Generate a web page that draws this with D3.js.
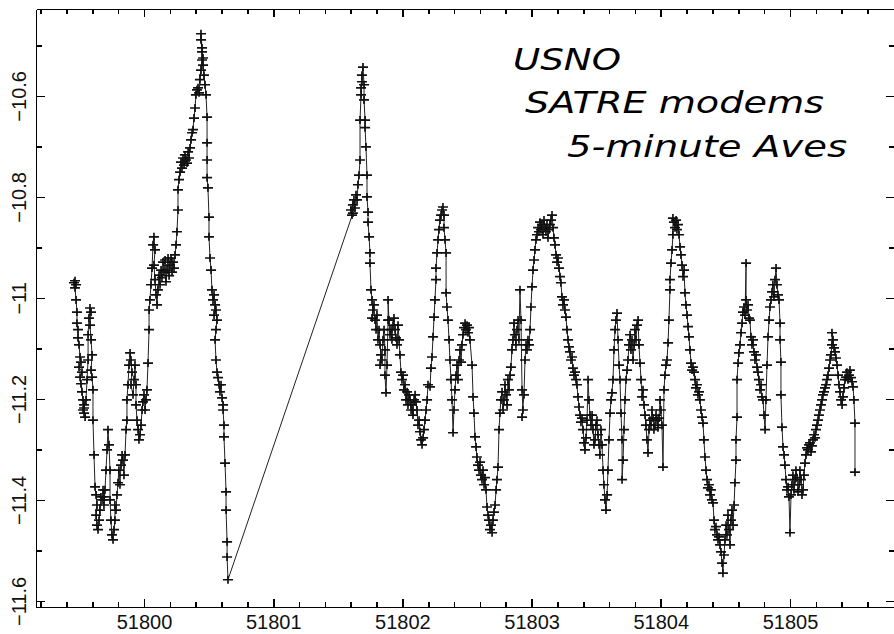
<!DOCTYPE html>
<head>
  <meta charset="utf-8">
  <title>USNO SATRE modems</title>
  <script src="https://d3js.org/d3.v7.min.js"></script>
  <style>
    body { margin: 0; background: #fff; }
    svg { display: block; background: #fff; }
    .axis path, .axis line { stroke: #000; stroke-width: 1.6px; shape-rendering: crispEdges; }
    .axis text { font-family: "Liberation Sans", Arial, sans-serif; font-size: 20px; fill: #111; }
    .trace { fill: none; stroke: #222; stroke-width: 1px; }
    .mark { fill: none; stroke: #111; stroke-width: 1.7px; }
    .note { font-family: "DejaVu Sans ExtraLight", "DejaVu Sans", sans-serif; font-size: 30px; font-weight: 200; font-style: italic; fill: #000; }
  </style>
</head>

<body>
  <script>
    var width = 894, height = 634;
    var margin = {top: 9, right: 0, bottom: 27, left: 36};

    // MJD vs clock offset (5-minute averages)
    var run1 = [
      [51799.458,-10.970],[51799.466,-10.966],[51799.474,-10.974],[51799.466,-10.980],[51799.474,-11.004],
      [51799.481,-11.028],[51799.481,-11.050],[51799.489,-11.063],[51799.489,-11.079],[51799.497,-11.093],
      [51799.505,-11.117],[51799.512,-11.127],[51799.497,-11.137],[51799.520,-11.147],[51799.505,-11.157],
      [51799.512,-11.170],[51799.520,-11.186],[51799.528,-11.202],[51799.536,-11.212],[51799.528,-11.222],
      [51799.536,-11.228],[51799.544,-11.236],[51799.536,-11.218],[51799.551,-11.202],[51799.559,-11.162],
      [51799.567,-11.123],[51799.567,-11.073],[51799.574,-11.040],[51799.582,-11.020],[51799.590,-11.028],
      [51799.582,-11.054],[51799.590,-11.083],[51799.598,-11.113],[51799.590,-11.143],[51799.598,-11.157],
      [51799.605,-11.182],[51799.605,-11.242],[51799.613,-11.311],[51799.621,-11.374],[51799.629,-11.390],
      [51799.636,-11.410],[51799.629,-11.430],[51799.636,-11.450],[51799.644,-11.459],[51799.652,-11.440],
      [51799.659,-11.420],[51799.667,-11.394],[51799.675,-11.400],[51799.683,-11.380],[51799.690,-11.394],
      [51799.690,-11.410],[51799.698,-11.380],[51799.706,-11.341],[51799.714,-11.301],[51799.721,-11.261],
      [51799.729,-11.291],[51799.737,-11.341],[51799.737,-11.400],[51799.744,-11.440],[51799.752,-11.469],
      [51799.760,-11.479],[51799.768,-11.459],[51799.775,-11.440],[51799.775,-11.410],[51799.783,-11.420],
      [51799.791,-11.390],[51799.799,-11.366],[51799.806,-11.341],[51799.814,-11.370],[51799.822,-11.331],
      [51799.830,-11.311],[51799.837,-11.321],[51799.845,-11.351],[51799.853,-11.311],[51799.861,-11.261],
      [51799.868,-11.242],[51799.868,-11.202],[51799.876,-11.172],[51799.884,-11.133],[51799.892,-11.109],
      [51799.899,-11.123],[51799.907,-11.147],[51799.899,-11.172],[51799.915,-11.192],[51799.923,-11.162],
      [51799.930,-11.133],[51799.938,-11.172],[51799.938,-11.212],[51799.946,-11.242],[51799.954,-11.261],
      [51799.961,-11.281],[51799.969,-11.271],[51799.977,-11.252],[51799.985,-11.222],[51799.992,-11.206],
      [51800.000,-11.192],[51800.008,-11.222],[51800.015,-11.202],[51800.023,-11.182],[51800.031,-11.129],
      [51800.039,-11.063],[51800.039,-11.024],[51800.046,-11.004],[51800.054,-10.974],[51800.062,-10.941],
      [51800.070,-10.895],[51800.077,-10.879],[51800.085,-10.905],[51800.077,-10.935],[51800.085,-10.964],
      [51800.093,-10.994],[51800.101,-11.014],[51800.108,-10.984],[51800.116,-10.955],[51800.124,-10.974],
      [51800.132,-10.945],[51800.139,-10.960],[51800.147,-10.929],[51800.155,-10.949],[51800.163,-10.925],
      [51800.170,-10.968],[51800.178,-10.945],[51800.186,-10.921],[51800.194,-10.956],[51800.201,-10.935],
      [51800.209,-10.921],[51800.217,-10.949],[51800.224,-10.929],[51800.232,-10.941],[51800.240,-10.915],
      [51800.248,-10.895],[51800.255,-10.869],[51800.263,-10.826],[51800.263,-10.786],[51800.271,-10.766],
      [51800.279,-10.751],[51800.286,-10.731],[51800.294,-10.743],[51800.302,-10.723],[51800.310,-10.737],
      [51800.317,-10.717],[51800.325,-10.727],[51800.333,-10.733],[51800.341,-10.711],[51800.348,-10.723],
      [51800.356,-10.703],[51800.364,-10.687],[51800.372,-10.673],[51800.379,-10.667],[51800.387,-10.644],
      [51800.395,-10.624],[51800.402,-10.598],[51800.410,-10.588],[51800.418,-10.584],[51800.426,-10.594],
      [51800.433,-10.568],[51800.441,-10.549],[51800.449,-10.529],[51800.449,-10.513],[51800.441,-10.489],
      [51800.441,-10.477],[51800.449,-10.505],[51800.457,-10.525],[51800.457,-10.539],[51800.464,-10.559],
      [51800.472,-10.578],[51800.480,-10.598],[51800.488,-10.642],[51800.488,-10.693],[51800.488,-10.727],
      [51800.488,-10.762],[51800.495,-10.782],[51800.503,-10.840],[51800.503,-10.879],[51800.511,-10.921],
      [51800.519,-10.945],[51800.526,-10.984],[51800.534,-11.004],[51800.542,-10.994],[51800.550,-11.014],
      [51800.542,-11.034],[51800.557,-11.024],[51800.565,-11.044],[51800.557,-11.063],[51800.550,-11.083],
      [51800.557,-11.123],[51800.565,-11.147],[51800.573,-11.158],[51800.581,-11.172],[51800.588,-11.186],
      [51800.596,-11.172],[51800.604,-11.198],[51800.612,-11.212],[51800.612,-11.222],[51800.619,-11.252],
      [51800.619,-11.275],[51800.627,-11.327],[51800.635,-11.384],[51800.635,-11.420],[51800.643,-11.483],
      [51800.643,-11.513],[51800.650,-11.558]
    ];

    var run2 = [
      [51801.617,-10.832],[51801.610,-10.836],[51801.602,-10.826],[51801.617,-10.816],[51801.625,-10.806],
      [51801.633,-10.822],[51801.641,-10.796],[51801.649,-10.806],[51801.656,-10.776],[51801.664,-10.757],
      [51801.672,-10.727],[51801.672,-10.648],[51801.680,-10.598],[51801.680,-10.584],[51801.687,-10.572],
      [51801.687,-10.559],[51801.695,-10.543],[51801.703,-10.578],[51801.703,-10.608],[51801.711,-10.648],
      [51801.711,-10.663],[51801.718,-10.701],[51801.726,-10.757],[51801.726,-10.800],[51801.734,-10.830],
      [51801.734,-10.850],[51801.742,-10.879],[51801.749,-10.911],[51801.749,-10.931],[51801.757,-10.984],
      [51801.765,-11.004],[51801.772,-11.024],[51801.765,-11.040],[51801.780,-11.014],[51801.788,-11.044],
      [51801.796,-11.063],[51801.803,-11.034],[51801.811,-11.083],[51801.819,-11.063],[51801.827,-11.093],
      [51801.834,-11.113],[51801.827,-11.133],[51801.842,-11.123],[51801.850,-11.083],[51801.858,-11.063],
      [51801.865,-11.103],[51801.865,-11.153],[51801.873,-11.188],[51801.881,-11.133],[51801.889,-11.044],
      [51801.889,-11.004],[51801.896,-11.044],[51801.904,-11.073],[51801.912,-11.063],[51801.919,-11.083],
      [51801.927,-11.054],[51801.935,-11.040],[51801.943,-11.063],[51801.950,-11.079],[51801.958,-11.093],
      [51801.966,-11.054],[51801.974,-11.083],[51801.981,-11.113],[51801.989,-11.147],[51801.997,-11.162],
      [51802.005,-11.153],[51802.012,-11.182],[51802.020,-11.172],[51802.028,-11.202],[51802.036,-11.186],
      [51802.043,-11.212],[51802.051,-11.192],[51802.059,-11.202],[51802.067,-11.222],[51802.074,-11.212],
      [51802.082,-11.232],[51802.090,-11.202],[51802.098,-11.192],[51802.105,-11.206],[51802.113,-11.222],
      [51802.121,-11.252],[51802.129,-11.242],[51802.136,-11.265],[51802.144,-11.281],[51802.152,-11.291],
      [51802.160,-11.277],[51802.167,-11.261],[51802.175,-11.242],[51802.183,-11.222],[51802.191,-11.202],
      [51802.198,-11.172],[51802.214,-11.176],[51802.221,-11.139],[51802.229,-11.117],[51802.237,-11.077],
      [51802.245,-11.038],[51802.252,-11.004],[51802.260,-10.964],[51802.260,-10.941],[51802.268,-10.911],
      [51802.276,-10.885],[51802.283,-10.865],[51802.291,-10.846],[51802.299,-10.836],[51802.307,-10.826],
      [51802.314,-10.820],[51802.322,-10.836],[51802.322,-10.861],[51802.330,-10.885],[51802.338,-10.911],
      [51802.338,-10.990],[51802.345,-11.018],[51802.353,-11.044],[51802.361,-11.083],[51802.368,-11.123],
      [51802.376,-11.162],[51802.384,-11.202],[51802.392,-11.267],[51802.399,-11.222],[51802.407,-11.182],
      [51802.415,-11.153],[51802.423,-11.133],[51802.430,-11.162],[51802.438,-11.123],[51802.446,-11.103],
      [51802.454,-11.127],[51802.461,-11.093],[51802.469,-11.073],[51802.477,-11.059],[51802.485,-11.050],
      [51802.492,-11.063],[51802.500,-11.054],[51802.508,-11.069],[51802.515,-11.059],[51802.523,-11.083],
      [51802.539,-11.133],[51802.547,-11.196],[51802.554,-11.228],[51802.562,-11.275],[51802.570,-11.295],
      [51802.577,-11.315],[51802.585,-11.331],[51802.593,-11.341],[51802.601,-11.325],[51802.608,-11.351],
      [51802.616,-11.360],[51802.624,-11.341],[51802.632,-11.370],[51802.639,-11.356],[51802.647,-11.380],
      [51802.655,-11.414],[51802.663,-11.430],[51802.670,-11.440],[51802.678,-11.459],[51802.686,-11.450],
      [51802.694,-11.465],[51802.701,-11.440],[51802.709,-11.424],[51802.717,-11.410],[51802.725,-11.380],
      [51802.732,-11.360],[51802.740,-11.335],[51802.748,-11.261],[51802.755,-11.228],[51802.763,-11.202],
      [51802.771,-11.186],[51802.779,-11.222],[51802.786,-11.202],[51802.794,-11.172],[51802.802,-11.192],
      [51802.810,-11.212],[51802.817,-11.162],[51802.825,-11.182],[51802.833,-11.153],[51802.840,-11.137],
      [51802.848,-11.103],[51802.856,-11.083],[51802.864,-11.050],[51802.871,-11.073],[51802.879,-11.093],
      [51802.887,-11.063],[51802.895,-11.044],[51802.902,-11.083],[51802.910,-10.984],[51802.918,-11.044],
      [51802.926,-11.182],[51802.933,-11.222],[51802.926,-11.236],[51802.941,-11.192],[51802.949,-11.123],
      [51802.957,-11.093],[51802.964,-11.103],[51802.972,-11.083],[51802.980,-11.093],[51802.988,-11.063],
      [51802.995,-11.018],[51803.003,-10.978],[51803.011,-10.945],[51803.019,-10.925],[51803.026,-10.905],
      [51803.034,-10.885],[51803.042,-10.875],[51803.050,-10.861],[51803.057,-10.869],[51803.065,-10.850],
      [51803.073,-10.865],[51803.080,-10.855],[51803.088,-10.875],[51803.096,-10.846],[51803.104,-10.861],
      [51803.111,-10.869],[51803.119,-10.855],[51803.127,-10.881],[51803.135,-10.865],[51803.142,-10.855],
      [51803.150,-10.846],[51803.158,-10.836],[51803.166,-10.861],[51803.173,-10.881],[51803.181,-10.895],
      [51803.189,-10.915],[51803.197,-10.929],[51803.204,-10.921],[51803.212,-10.941],[51803.220,-10.958],
      [51803.227,-10.970],[51803.235,-10.998],[51803.243,-11.014],[51803.251,-11.004],[51803.258,-11.024],
      [51803.266,-11.038],[51803.274,-11.063],[51803.282,-11.083],[51803.289,-11.097],[51803.297,-11.107],
      [51803.305,-11.123],[51803.313,-11.117],[51803.320,-11.139],[51803.328,-11.153],[51803.336,-11.147],
      [51803.344,-11.162],[51803.351,-11.172],[51803.359,-11.196],[51803.367,-11.216],[51803.375,-11.232],
      [51803.382,-11.246],[51803.390,-11.238],[51803.398,-11.261],[51803.406,-11.287],[51803.413,-11.301],
      [51803.421,-11.277],[51803.429,-11.242],[51803.437,-11.162],[51803.444,-11.202],[51803.452,-11.232],
      [51803.460,-11.252],[51803.468,-11.232],[51803.475,-11.261],[51803.483,-11.291],[51803.491,-11.281],
      [51803.498,-11.252],[51803.506,-11.242],[51803.514,-11.271],[51803.522,-11.291],[51803.529,-11.311],
      [51803.537,-11.261],[51803.545,-11.291],[51803.553,-11.341],[51803.560,-11.370],[51803.568,-11.400],
      [51803.576,-11.420],[51803.584,-11.390],[51803.591,-11.341],[51803.599,-11.281],[51803.607,-11.228],
      [51803.615,-11.202],[51803.622,-11.188],[51803.630,-11.162],[51803.638,-11.103],[51803.646,-11.063],
      [51803.653,-11.044],[51803.661,-11.030],[51803.669,-11.083],[51803.677,-11.133],[51803.684,-11.162],
      [51803.692,-11.228],[51803.700,-11.281],[51803.700,-11.360],[51803.708,-11.321],[51803.715,-11.261],
      [51803.723,-11.202],[51803.731,-11.162],[51803.739,-11.143],[51803.746,-11.123],[51803.754,-11.093],
      [51803.762,-11.073],[51803.769,-11.103],[51803.777,-11.083],[51803.785,-11.123],[51803.793,-11.093],
      [51803.800,-11.063],[51803.808,-11.083],[51803.816,-11.054],[51803.824,-11.044],[51803.831,-11.093],
      [51803.839,-11.129],[51803.847,-11.162],[51803.855,-11.196],[51803.862,-11.182],[51803.870,-11.212],
      [51803.878,-11.232],[51803.885,-11.252],[51803.893,-11.281],[51803.901,-11.307],[51803.909,-11.261],
      [51803.916,-11.242],[51803.924,-11.252],[51803.932,-11.222],[51803.940,-11.238],[51803.947,-11.261],
      [51803.955,-11.252],[51803.963,-11.232],[51803.971,-11.242],[51803.978,-11.257],[51803.986,-11.238],
      [51803.994,-11.202],[51804.001,-11.222],[51804.009,-11.252],[51804.017,-11.335],[51804.025,-11.182],
      [51804.032,-11.153],[51804.040,-11.133],[51804.048,-11.123],[51804.056,-11.089],[51804.063,-11.044],
      [51804.071,-10.984],[51804.071,-10.964],[51804.079,-10.931],[51804.087,-10.905],[51804.094,-10.875],
      [51804.094,-10.842],[51804.102,-10.850],[51804.110,-10.861],[51804.118,-10.846],[51804.125,-10.865],
      [51804.133,-10.855],[51804.141,-10.875],[51804.149,-10.899],[51804.156,-10.915],[51804.164,-10.935],
      [51804.172,-10.958],[51804.180,-10.945],[51804.187,-10.990],[51804.195,-11.014],[51804.203,-11.034],
      [51804.211,-11.057],[51804.218,-11.077],[51804.226,-11.103],[51804.234,-11.129],[51804.242,-11.143],
      [51804.249,-11.137],[51804.257,-11.147],[51804.265,-11.162],[51804.272,-11.178],[51804.280,-11.172],
      [51804.288,-11.192],[51804.296,-11.186],[51804.303,-11.202],[51804.311,-11.222],[51804.319,-11.236],
      [51804.327,-11.248],[51804.334,-11.281],[51804.342,-11.315],[51804.350,-11.341],[51804.358,-11.360],
      [51804.365,-11.376],[51804.373,-11.370],[51804.381,-11.390],[51804.388,-11.380],[51804.396,-11.400],
      [51804.404,-11.406],[51804.412,-11.440],[51804.419,-11.459],[51804.427,-11.453],[51804.435,-11.469],
      [51804.443,-11.479],[51804.450,-11.473],[51804.458,-11.489],[51804.466,-11.503],[51804.474,-11.525],
      [51804.481,-11.545],[51804.489,-11.509],[51804.497,-11.479],[51804.505,-11.450],[51804.512,-11.469],
      [51804.520,-11.430],[51804.528,-11.459],[51804.536,-11.489],[51804.543,-11.440],[51804.551,-11.420],
      [51804.559,-11.450],[51804.567,-11.410],[51804.574,-11.366],[51804.582,-11.321],[51804.582,-11.281],
      [51804.590,-11.236],[51804.590,-11.162],[51804.598,-11.129],[51804.605,-11.109],[51804.613,-11.093],
      [51804.621,-11.069],[51804.629,-11.050],[51804.636,-11.028],[51804.644,-11.018],[51804.652,-11.034],
      [51804.660,-10.931],[51804.660,-11.004],[51804.667,-11.024],[51804.675,-11.014],[51804.683,-11.040],
      [51804.690,-11.044],[51804.698,-11.077],[51804.706,-11.093],[51804.714,-11.083],[51804.721,-11.107],
      [51804.729,-11.123],[51804.737,-11.113],[51804.745,-11.137],[51804.752,-11.147],[51804.760,-11.162],
      [51804.768,-11.182],[51804.776,-11.172],[51804.783,-11.196],[51804.791,-11.202],[51804.799,-11.232],
      [51804.807,-11.261],[51804.814,-11.202],[51804.822,-11.133],[51804.830,-11.077],[51804.838,-11.044],
      [51804.845,-11.018],[51804.853,-11.004],[51804.861,-10.988],[51804.868,-10.974],[51804.876,-10.998],
      [51804.884,-10.964],[51804.892,-10.941],[51804.899,-10.974],[51804.907,-10.994],[51804.915,-11.004],
      [51804.923,-11.050],[51804.923,-11.083],[51804.930,-11.127],[51804.930,-11.192],[51804.938,-11.256],
      [51804.946,-11.295],[51804.954,-11.311],[51804.961,-11.331],[51804.969,-11.360],[51804.977,-11.380],
      [51804.985,-11.374],[51804.992,-11.394],[51805.000,-11.465],[51805.008,-11.390],[51805.015,-11.370],
      [51805.023,-11.351],[51805.031,-11.380],[51805.039,-11.360],[51805.046,-11.341],[51805.054,-11.356],
      [51805.062,-11.384],[51805.070,-11.370],[51805.077,-11.341],[51805.085,-11.360],[51805.093,-11.390],
      [51805.101,-11.380],[51805.108,-11.351],[51805.116,-11.327],[51805.124,-11.311],[51805.132,-11.297],
      [51805.139,-11.301],[51805.147,-11.291],[51805.155,-11.287],[51805.163,-11.305],[51805.170,-11.293],
      [51805.178,-11.281],[51805.186,-11.271],[51805.194,-11.277],[51805.201,-11.261],[51805.209,-11.252],
      [51805.217,-11.242],[51805.224,-11.232],[51805.232,-11.222],[51805.240,-11.212],[51805.248,-11.202],
      [51805.255,-11.192],[51805.263,-11.186],[51805.271,-11.178],[51805.279,-11.172],[51805.286,-11.162],
      [51805.294,-11.153],[51805.302,-11.139],[51805.310,-11.123],[51805.317,-11.113],[51805.325,-11.093],
      [51805.325,-11.069],[51805.333,-11.083],[51805.341,-11.099],[51805.348,-11.107],[51805.356,-11.119],
      [51805.364,-11.133],[51805.372,-11.153],[51805.379,-11.172],[51805.387,-11.186],[51805.395,-11.202],
      [51805.403,-11.212],[51805.410,-11.196],[51805.418,-11.178],[51805.426,-11.162],[51805.434,-11.157],
      [51805.441,-11.147],[51805.449,-11.162],[51805.457,-11.153],[51805.464,-11.143],[51805.472,-11.158],
      [51805.480,-11.166],[51805.488,-11.176],[51805.495,-11.202],[51805.503,-11.248],[51805.503,-11.345]
    ];

    var xMajorTicks = [51800, 51801, 51802, 51803, 51804, 51805];
    var xMinorTicks = [51799.2, 51799.4, 51799.6, 51799.8, 51800.2, 51800.4, 51800.6, 51800.8,
                       51801.2, 51801.4, 51801.6, 51801.8, 51802.2, 51802.4, 51802.6, 51802.8,
                       51803.2, 51803.4, 51803.6, 51803.8, 51804.2, 51804.4, 51804.6, 51804.8,
                       51805.2, 51805.4, 51805.6];
    var yMajorTicks = [-10.6, -10.8, -11, -11.2, -11.4, -11.6];
    var yMinorTicks = [-10.5, -10.7, -10.9, -11.1, -11.3, -11.5];
    var noteLines = ["USNO", "SATRE modems", "5-minute Aves"];

    var svg = d3.select("body").append("svg")
      .attr("width", width)
      .attr("height", height);

    var x = d3.scaleLinear()
      .domain([51799.164, 51805.805])
      .range([margin.left, width - margin.right]);

    var y = d3.scaleLinear()
      .domain([-10.428, -11.612])
      .range([margin.top, height - margin.bottom]);

    var fmt = d3.format("~g");

    // frame with inward ticks on all four sides
    function frameAxis(axis, transform, ticks, size, labels) {
      var g = svg.append("g")
        .attr("class", "axis")
        .attr("transform", transform)
        .call(axis.tickValues(ticks).tickSizeInner(size).tickSizeOuter(0)
          .tickFormat(labels ? fmt : ""));
      return g;
    }

    var bottom = frameAxis(d3.axisBottom(x), "translate(0," + y.range()[1] + ")", xMajorTicks, -8, true);
    bottom.selectAll("text").attr("y", 22).attr("dy", 0);
    frameAxis(d3.axisBottom(x), "translate(0," + y.range()[1] + ")", xMinorTicks, -5, false)
      .select(".domain").remove();

    frameAxis(d3.axisTop(x), "translate(0," + y.range()[0] + ")", xMajorTicks, -8, false);
    frameAxis(d3.axisTop(x), "translate(0," + y.range()[0] + ")", xMinorTicks, -5, false)
      .select(".domain").remove();

    var left = frameAxis(d3.axisLeft(y), "translate(" + x.range()[0] + ",0)", yMajorTicks, -9, true);
    left.selectAll("text")
      .attr("transform", "rotate(-90)")
      .attr("x", 0)
      .attr("y", -10)
      .attr("dy", 0)
      .style("text-anchor", "middle");
    frameAxis(d3.axisLeft(y), "translate(" + x.range()[0] + ",0)", yMinorTicks, -6, false)
      .select(".domain").remove();

    frameAxis(d3.axisRight(y), "translate(" + x.range()[1] + ",0)", yMajorTicks, -8, false);
    frameAxis(d3.axisRight(y), "translate(" + x.range()[1] + ",0)", yMinorTicks, -5, false)
      .select(".domain").remove();

    var samples = run1.concat(run2);

    var line = d3.line()
      .x(d => x(d[0]))
      .y(d => y(d[1]));

    svg.append("path")
      .datum(samples)
      .attr("class", "trace")
      .attr("d", line);

    svg.append("g")
      .selectAll("path")
      .data(samples)
      .enter().append("path")
        .attr("class", "mark")
        .attr("transform", d => "translate(" + x(d[0]) + "," + y(d[1]) + ")")
        .attr("d", "M-5,0H5M0,-4V4");

    // handwritten annotation
    var notePos = [[513, 70, 108], [525, 113, 299], [567, 157, 280]];
    svg.append("g")
      .selectAll("text")
      .data(noteLines)
      .enter().append("text")
        .attr("class", "note")
        .attr("x", (d, i) => notePos[i][0])
        .attr("y", (d, i) => notePos[i][1])
        .attr("textLength", (d, i) => notePos[i][2])
        .attr("lengthAdjust", "spacingAndGlyphs")
        .text(d => d);
  </script>
</body>
